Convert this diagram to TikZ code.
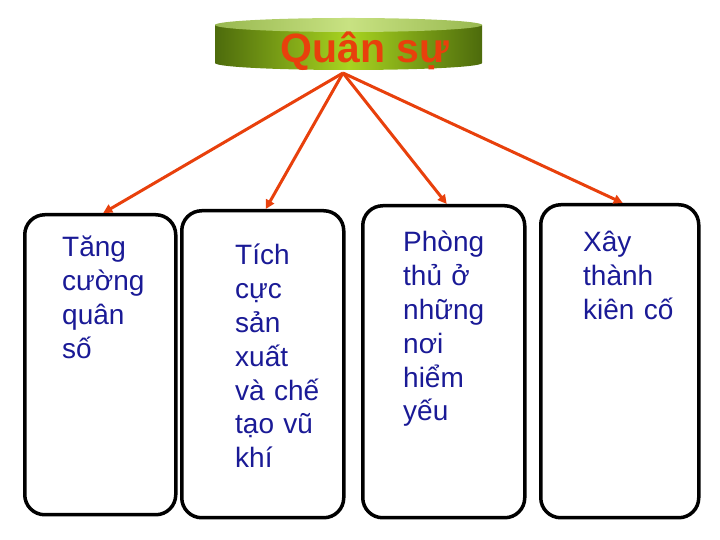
\documentclass[tikz,border=0pt]{standalone}
\usepackage{fontspec}
\setmainfont{Liberation Sans}
\usetikzlibrary{arrows.meta}
\definecolor{olivedark}{HTML}{4D6B0C}
\definecolor{olivelight}{HTML}{A8D420}
\definecolor{toplight}{HTML}{C8E282}
\definecolor{topedge}{HTML}{98B850}
\definecolor{qsred}{HTML}{E8400C}
\definecolor{txtblue}{HTML}{1A1A96}
\tikzset{
	box/.style={draw=black, line width=3.5pt, rounded corners=20pt, anchor=north west},
	lbl/.style={text=txtblue, anchor=base west, align=left, text width=130pt, inner sep=0pt,
		font=\fontsize{28}{33.8}\selectfont},
	link/.style={draw=qsred, line width=3pt, -{Triangle[length=9pt,width=9pt]}}
}
\begin{document}
\begin{tikzpicture}[x=1pt,y=1pt]
			\useasboundingbox (0,0) rectangle (720,540);
			% title drum
			\shade[left color=olivedark, right color=olivedark, middle color=olivelight]
			(215,515) -- (215,477) arc[start angle=180,end angle=360,x radius=133.5,y radius=7]
			-- (482,515) -- cycle;
			\shade[left color=topedge, right color=topedge, middle color=toplight]
			(348.5,515) ellipse [x radius=133.5, y radius=7];
			\node[text=qsred, anchor=base, inner sep=0pt, font=\bfseries\fontsize{41}{44}\selectfont] (qs) at (365,477) {Quân sự};
			\coordinate (root) at (343,467);
			% boxes
			\node[box, minimum width=151pt, minimum height=300pt] (b1) at (23,327) {};
			\node[box, minimum width=162pt, minimum height=307pt] (b2) at (180,331) {};
			\node[box, minimum width=162pt, minimum height=312pt] (b3) at (361,336) {};
			\node[box, minimum width=158pt, minimum height=313pt] (b4) at (539,337) {};
			% texts
			\node[lbl] (t1) at (62,283) {Tăng\\cường\\quân\\số};
			\node[lbl] (t2) at (235,275) {Tích\\cực\\sản\\xuất\\và chế\\tạo vũ\\khí};
			\node[lbl] (t3) at (403,288) {Phòng\\thủ ở\\những\\nơi\\hiểm\\yếu};
			\node[lbl] (t4) at (583,288) {Xây\\thành\\kiên cố};
			% arrows
			\foreach \b in {b1,b2,b3,b4}
				\draw[link] (root) -- ([xshift=3pt]\b.north);
		\end{tikzpicture}
\end{document}
